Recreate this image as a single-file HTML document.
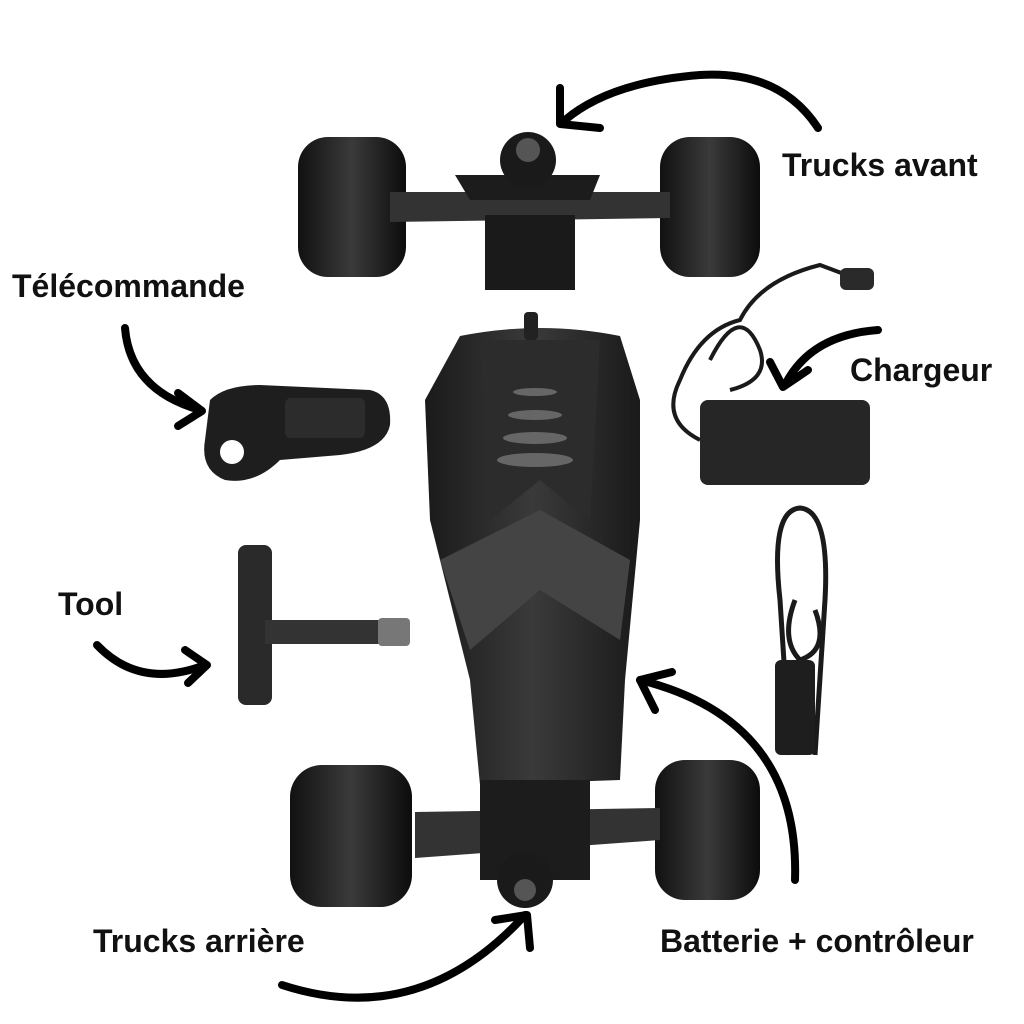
<!DOCTYPE html>
<html><head><meta charset="utf-8"><style>
html,body{margin:0;padding:0;background:#fff;}
svg{display:block}
text{font-family:"Liberation Sans",sans-serif;font-weight:bold;fill:#111;font-size:32px}
</style></head><body>
<svg width="1024" height="1024" viewBox="0 0 1024 1024" xmlns="http://www.w3.org/2000/svg">
<defs>
<linearGradient id="wh" x1="0" x2="1"><stop offset="0" stop-color="#111"/><stop offset="0.5" stop-color="#3a3a3a"/><stop offset="1" stop-color="#0c0c0c"/></linearGradient>
<linearGradient id="deck" x1="0" x2="1"><stop offset="0" stop-color="#1a1a1a"/><stop offset="0.5" stop-color="#3a3a3a"/><stop offset="1" stop-color="#1a1a1a"/></linearGradient>
</defs>
<rect width="1024" height="1024" fill="#fff"/>
<rect x="298" y="137" width="108" height="140" rx="30" fill="url(#wh)"/>
<rect x="660" y="137" width="100" height="140" rx="30" fill="url(#wh)"/>
<path d="M390 192 L670 192 L670 218 L390 222 Z" fill="#333"/>
<path d="M455 175 L600 175 L590 200 L470 200 Z" fill="#1c1c1c"/>
<rect x="485" y="215" width="90" height="75" fill="#1a1a1a"/>
<circle cx="528" cy="160" r="28" fill="#1a1a1a"/>
<circle cx="528" cy="150" r="12" fill="#555"/>
<path d="M460 336 Q540 320 620 336 L640 400 L640 520 L625 680 L620 780 L480 785 L470 680 L430 520 L425 400 Z" fill="url(#deck)"/>
<path d="M480 340 L600 340 L590 520 L540 480 L490 520 Z" fill="#2c2c2c"/>
<path d="M440 560 L540 510 L630 560 L620 640 L540 590 L470 650 Z" fill="#444"/>
<ellipse cx="535" cy="392" rx="22" ry="4" fill="#666"/>
<ellipse cx="535" cy="415" rx="27" ry="5" fill="#666"/>
<ellipse cx="535" cy="438" rx="32" ry="6" fill="#666"/>
<ellipse cx="535" cy="460" rx="38" ry="7" fill="#666"/>
<rect x="524" y="312" width="14" height="28" rx="4" fill="#222"/>
<rect x="290" y="765" width="122" height="142" rx="32" fill="url(#wh)"/>
<rect x="655" y="760" width="105" height="140" rx="30" fill="url(#wh)"/>
<path d="M415 812 L660 808 L660 840 L415 858 Z" fill="#333"/>
<rect x="480" y="780" width="110" height="100" fill="#1c1c1c"/>
<circle cx="525" cy="880" r="28" fill="#1a1a1a"/>
<circle cx="525" cy="890" r="11" fill="#555"/>
<path d="M210 400 Q225 385 260 385 L370 390 Q392 395 390 425 Q385 450 340 455 L280 460 Q255 485 225 480 Q200 470 205 440 Z" fill="#1e1e1e"/>
<circle cx="232" cy="452" r="12" fill="#fff"/>
<rect x="285" y="398" width="80" height="40" rx="6" fill="#2c2c2c"/>
<rect x="700" y="400" width="170" height="85" rx="8" fill="#262626"/>
<path d="M700 440 Q660 420 680 380 Q700 330 740 320 Q760 280 820 265 L860 280" stroke="#1a1a1a" stroke-width="4" fill="none"/>
<path d="M710 360 Q740 300 760 350 Q770 380 730 390" stroke="#1a1a1a" stroke-width="4" fill="none"/>
<rect x="840" y="268" width="34" height="22" rx="6" fill="#2a2a2a"/>
<path d="M790 755 L780 600 Q770 510 800 508 Q830 510 825 600 L815 755" stroke="#1a1a1a" stroke-width="5" fill="none"/>
<path d="M795 600 Q780 640 800 660 Q830 650 815 610" stroke="#1a1a1a" stroke-width="5" fill="none"/>
<rect x="775" y="660" width="40" height="95" rx="6" fill="#1e1e1e"/>
<rect x="238" y="545" width="34" height="160" rx="8" fill="#2a2a2a"/>
<rect x="265" y="620" width="115" height="24" fill="#333"/>
<rect x="378" y="618" width="32" height="28" rx="4" fill="#777"/>
<g stroke="#000" stroke-width="8" fill="none" stroke-linecap="round" stroke-linejoin="round">
<path d="M818 128 Q780 70 700 75 Q610 82 565 120"/>
<path d="M560 88 L560 124 L600 128"/>
<path d="M125 328 Q130 390 200 410"/>
<path d="M178 393 L202 411 L178 426"/>
<path d="M878 330 Q810 335 785 385"/>
<path d="M770 362 L783 387 L808 370"/>
<path d="M97 645 Q140 690 205 665"/>
<path d="M185 650 L207 665 L188 683"/>
<path d="M795 880 Q800 720 640 680"/>
<path d="M655 710 L640 680 L672 672"/>
<path d="M282 985 Q420 1030 525 915"/>
<path d="M495 920 L527 915 L530 948"/>
</g>
<text x="782" y="176">Trucks avant</text>
<text x="12" y="297">Télécommande</text>
<text x="850" y="381">Chargeur</text>
<text x="58" y="615">Tool</text>
<text x="93" y="952">Trucks arrière</text>
<text x="660" y="952">Batterie + contrôleur</text>
</svg>
</body></html>
